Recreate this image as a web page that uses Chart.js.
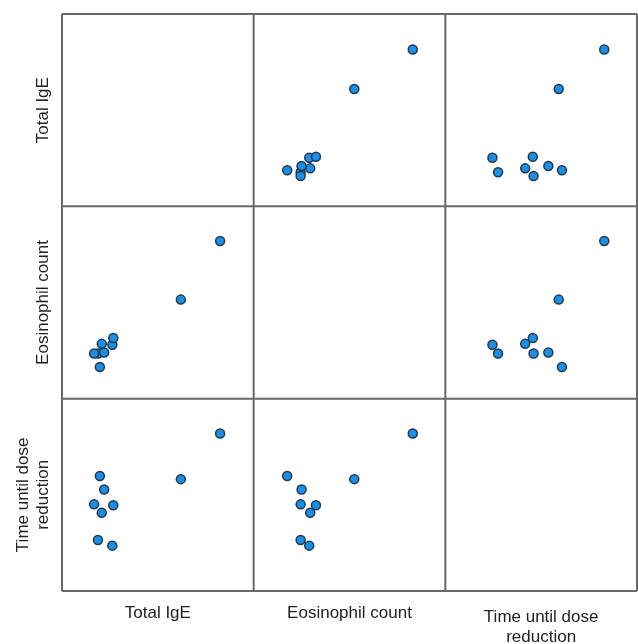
<!DOCTYPE html>
<html>
<head>
<meta charset="utf-8">
<title>Scatterplot matrix</title>
<script src="https://cdn.jsdelivr.net/npm/chart.js@4.4.1/dist/chart.umd.min.js"></script>
<style>
    html, body { margin: 0; padding: 0; background: #ffffff; overflow: hidden; }
    #wrap { position: relative; width: 638px; height: 644px; }
</style>
</head>
<body>
<div id="wrap"><canvas id="matrixChart" width="638" height="644"></canvas></div>
<script>
// variable names, one per row / column of the matrix
const varLabels = ['Total IgE', 'Eosinophil count', ['Time until dose', 'reduction']];

// one value per patient (same order in every array)
const totalIgE = [1650, 1240, 525, 375, 415, 535, 335, 440, 395];      // IU/mL
const eosinophils = [830, 525, 290, 245, 295, 325, 245, 250, 175];     // cells/uL
const timeToReduction = [19.9, 14.2, 5.9, 6.6, 10.0, 10.95, 11.05, 12.9, 14.6]; // months

// axis ranges for each variable
const igeRange = [0, 2000];
const eosRange = [0, 1000];
const timeRange = [0, 24];

const series = [totalIgE, eosinophils, timeToReduction];
const ranges = [igeRange, eosRange, timeRange];

document.addEventListener("DOMContentLoaded", () => {
    renderMatrix();
});

// grey frame around every cell
const cellFrame = {
    id: 'cellFrame',
    beforeDatasetsDraw(chart) {
        const { ctx, chartArea } = chart;
        ctx.save();
        ctx.strokeStyle = '#686868';
        ctx.lineWidth = 2;
        ctx.beginPath();
        ['x0', 'x1', 'x2'].forEach(id => {
            const s = chart.scales[id];
            [s.left, s.right].forEach(x => {
                ctx.moveTo(x, chartArea.top);
                ctx.lineTo(x, chartArea.bottom);
            });
        });
        ['y0', 'y1', 'y2'].forEach(id => {
            const s = chart.scales[id];
            [s.top, s.bottom].forEach(y => {
                ctx.moveTo(chartArea.left, y);
                ctx.lineTo(chartArea.right, y);
            });
        });
        ctx.stroke();
        ctx.restore();
    }
};

function titleFont() {
    return { family: "'Liberation Sans', Arial, sans-serif", size: 17, lineHeight: 1.15 };
}

function buildScales() {
    const scales = {};
    for (let c = 0; c < 3; c++) {
        const twoLines = Array.isArray(varLabels[c]);
        scales['x' + c] = {
            type: 'linear',
            position: 'bottom',
            stack: 'cols',
            stackWeight: 1,
            min: ranges[c][0],
            max: ranges[c][1],
            grid: { display: false },
            border: { display: false },
            ticks: { display: false },
            title: {
                display: true,
                text: varLabels[c],
                color: '#222222',
                font: titleFont(),
                padding: { top: 0, bottom: twoLines ? -3 : 21 }
            },
            afterFit: (scale) => { scale.height = 53; }
        };
    }
    for (let r = 0; r < 3; r++) {
        const twoLines = Array.isArray(varLabels[r]);
        const span = ranges[r][1] - ranges[r][0];
        scales['y' + r] = {
            type: 'linear',
            position: 'left',
            stack: 'rows',
            stackWeight: 1,
            weight: 3 - r,
            min: ranges[r][0] + span * 0.01,
            max: ranges[r][1] + span * 0.01,
            grid: { display: false },
            border: { display: false },
            ticks: { display: false },
            title: {
                display: true,
                text: varLabels[r],
                color: '#222222',
                font: titleFont(),
                padding: { top: twoLines ? 14 : 34, bottom: 0 }
            },
            afterFit: (scale) => { scale.width = 62; }
        };
    }
    return scales;
}

function buildDatasets() {
    const datasets = [];
    for (let r = 0; r < 3; r++) {
        for (let c = 0; c < 3; c++) {
            if (r === c) continue; // diagonal cells stay empty
            datasets.push({
                label: 'r' + r + 'c' + c,
                xAxisID: 'x' + c,
                yAxisID: 'y' + r,
                data: series[c].map((v, i) => ({ x: v, y: series[r][i] })),
                pointRadius: 4.5,
                pointBackgroundColor: '#1b8fe6',
                pointBorderColor: '#22384d',
                pointBorderWidth: 1.5
            });
        }
    }
    return datasets;
}

function renderMatrix() {
    const ctx = document.getElementById('matrixChart').getContext('2d');
    new Chart(ctx, {
        type: 'scatter',
        data: { datasets: buildDatasets() },
        options: {
            responsive: false,
            animation: false,
            layout: { autoPadding: false, padding: { top: 14, right: 1, bottom: 0, left: 0 } },
            scales: buildScales(),
            plugins: {
                legend: { display: false },
                tooltip: { enabled: false }
            }
        },
        plugins: [cellFrame]
    });
}
</script>
</body>
</html>
